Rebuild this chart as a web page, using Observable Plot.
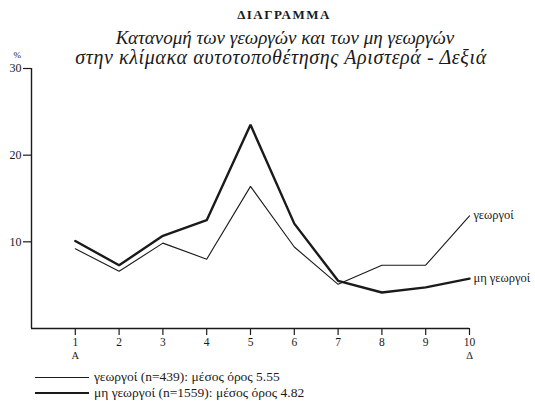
<!DOCTYPE html>
<html><head><meta charset="utf-8">
<script src="https://cdn.jsdelivr.net/npm/d3@7"></script>
<script src="https://cdn.jsdelivr.net/npm/@observablehq/plot@0.6"></script>
<style>
body{margin:0;background:#fff;}
#wrap{position:relative;width:535px;height:409px;font-family:"Liberation Serif","Tinos","Times New Roman","DejaVu Serif",serif;color:#1a1a1a;overflow:hidden;}
#wrap svg{position:absolute;left:0;top:0;}
.t{position:absolute;left:0;width:568px;text-align:center;white-space:nowrap;}
#title{top:7px;font-weight:bold;font-size:13px;letter-spacing:1.5px;line-height:16px;}
#sub1{top:28px;font-style:italic;font-size:19px;line-height:19px;width:570px;}
#sub2{top:48px;font-style:italic;font-size:20px;line-height:19px;width:562px;letter-spacing:0.6px;}
.leg{position:absolute;left:35px;font-size:13.5px;white-space:nowrap;display:flex;align-items:center;}
.leg .sw{display:inline-block;width:54px;border-top:1.2px solid #1a1a1a;margin-right:5px;}
.leg .sw.thick{border-top-width:2.4px;}
</style>
</head><body>
<div id="wrap">
  <div id="chart"></div>
  <div class="t" id="title"></div>
  <div class="t" id="sub1"></div>
  <div class="t" id="sub2"></div>
  <div class="leg" id="leg1" style="top:369px"><span class="sw"></span><span class="tx"></span></div>
  <div class="leg" id="leg2" style="top:385px"><span class="sw thick"></span><span class="tx"></span></div>
</div>
<script>
const titleText = "ΔΙΑΓΡΑΜΜΑ";
const subtitleLines = ["Κατανομή των γεωργών και των μη γεωργών", "στην κλίμακα αυτοτοποθέτησης Αριστερά - Δεξιά"];
const scale = [1, 2, 3, 4, 5, 6, 7, 8, 9, 10];
const farmers = [9.2, 6.6, 9.85, 8.0, 16.4, 9.4, 5.1, 7.3, 7.3, 13.0];
const nonFarmers = [10.1, 7.3, 10.7, 12.5, 23.5, 12.1, 5.5, 4.15, 4.75, 5.75];
const seriesNames = ["γεωργοί", "μη γεωργοί"];
const legendTexts = ["γεωργοί (n=439): μέσος όρος 5.55", "μη γεωργοί (n=1559): μέσος όρος 4.82"];
const xTickLabels = ["1", "2", "3", "4", "5", "6", "7", "8", "9", "10"];
const poleLabels = ["Α", "", "", "", "", "", "", "", "", "Δ"];
const yTicks = [10, 20, 30];
const yUnit = "%";

document.getElementById("title").textContent = titleText;
document.getElementById("sub1").textContent = subtitleLines[0];
document.getElementById("sub2").textContent = subtitleLines[1];
document.querySelector("#leg1 .tx").textContent = legendTexts[0];
document.querySelector("#leg2 .tx").textContent = legendTexts[1];

const rows = [];
scale.forEach((x, i) => rows.push({series: seriesNames[0], x, y: farmers[i]}));
scale.forEach((x, i) => rows.push({series: seriesNames[1], x, y: nonFarmers[i]}));
const last = [rows.filter(d => d.series === seriesNames[0]).at(-1), rows.filter(d => d.series === seriesNames[1]).at(-1)];
const poles = scale.map((x, i) => ({x, label: poleLabels[i]})).filter(d => d.label);
const ink = "#1a1a1a";
const serif = "'Liberation Serif', Tinos, 'Times New Roman', 'DejaVu Serif', serif";

const plot = Plot.plot({
  width: 535,
  height: 409,
  marginTop: 68,
  marginBottom: 81,
  marginLeft: 31,
  marginRight: 66,
  style: {fontFamily: serif, fontSize: "12px", color: ink, background: "transparent"},
  x: {domain: [0, 10]},
  y: {domain: [0, 30]},
  marks: [
    Plot.ruleY([0], {stroke: ink, strokeWidth: 1.4}),
    Plot.ruleX([0], {stroke: ink, strokeWidth: 1.4}),
    Plot.axisX({ticks: scale, tickSize: 7, tickPadding: 2, stroke: ink, strokeWidth: 1.2, fill: ink, fontSize: 11.5,
      tickFormat: d => xTickLabels[scale.indexOf(d)], label: null}),
    Plot.text(poles, {x: "x", text: "label", frameAnchor: "bottom", lineAnchor: "top", dy: 23, fontSize: 10.5, fill: ink}),
    Plot.axisY({ticks: yTicks, tickSize: 8, tickPadding: 2, stroke: ink, strokeWidth: 1.2, fill: ink, fontSize: 12, label: null}),
    Plot.text([yUnit], {frameAnchor: "top-left", dx: -18, dy: -17, fontSize: 9, fill: ink}),
    Plot.line(rows.filter(d => d.series === seriesNames[0]), {x: "x", y: "y", stroke: ink, strokeWidth: 1.1, strokeLinejoin: "miter"}),
    Plot.line(rows.filter(d => d.series === seriesNames[1]), {x: "x", y: "y", stroke: ink, strokeWidth: 2.4, strokeLinejoin: "miter"}),
    Plot.text(last, {x: "x", y: "y", text: "series", textAnchor: "start", dx: 4, dy: -1, fontSize: 12.5, fill: ink})
  ]
});
document.getElementById("chart").appendChild(plot);
</script>
</body></html>
